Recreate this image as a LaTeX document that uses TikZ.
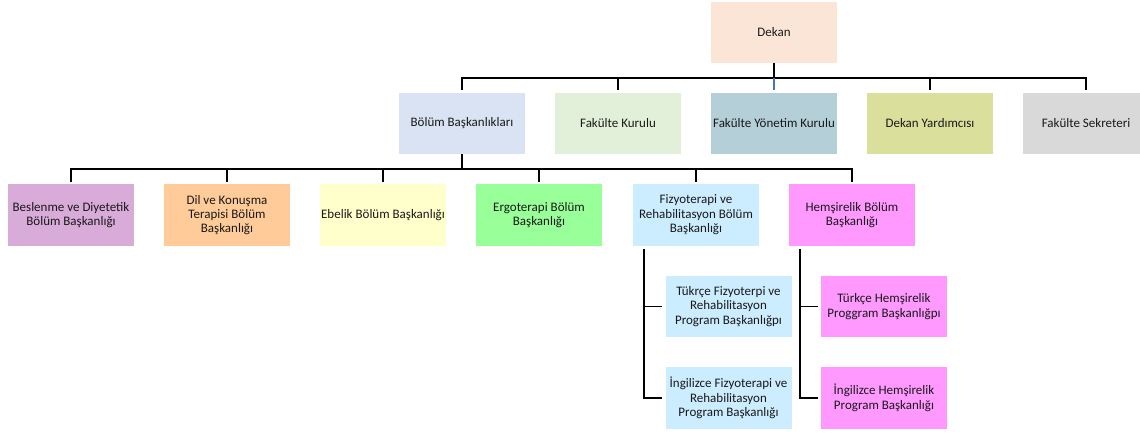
\documentclass[tikz,border=0pt]{standalone}
\usepackage{fontspec}
\setmainfont{Carlito}
\definecolor{cDekan}{HTML}{FBE5D6}
\definecolor{cBB}{HTML}{DAE3F3}
\definecolor{cFK}{HTML}{E2F0D9}
\definecolor{cFYK}{HTML}{B5CFD8}
\definecolor{cDY}{HTML}{DAE09B}
\definecolor{cFS}{HTML}{D9D9D9}
\definecolor{cBes}{HTML}{D8ABD8}
\definecolor{cDil}{HTML}{FFCC99}
\definecolor{cEbe}{HTML}{FFFFCC}
\definecolor{cErg}{HTML}{99FF99}
\definecolor{cFiz}{HTML}{CCECFF}
\definecolor{cHem}{HTML}{FF99FF}
\definecolor{cBlue}{HTML}{4472C4}
\tikzset{
  box/.style={minimum width=126pt, minimum height=61.5pt, inner sep=0pt, align=center,
    font=\fontsize{13}{14.4}\selectfont, text=black!90},
  conn/.style={line width=1.8pt, black},
}
\begin{document}
\begin{tikzpicture}[x=1pt,y=-1pt]
\useasboundingbox (0,0) rectangle (1140,434);
% row 1
\node[box, fill=cDekan] (dekan) at (774,32.5) {Dekan};
% row 2
\node[box, fill=cBB]  (bb)  at (462,123.5) {Bölüm Başkanlıkları};
\node[box, fill=cFK]  (fk)  at (618,123.5) {Fakülte Kurulu};
\node[box, fill=cFYK] (fyk) at (774,123.5) {Fakülte Yönetim Kurulu};
\node[box, fill=cDY]  (dy)  at (930,123.5) {Dekan Yardımcısı};
\node[box, fill=cFS]  (fs)  at (1086,123.5) {Fakülte Sekreteri};
% row 3
\node[box, fill=cBes] (bes) at (71,215) {Beslenme ve Diyetetik\\Bölüm Başkanlığı};
\node[box, fill=cDil] (dil) at (227,215) {Dil ve Konuşma\\Terapisi Bölüm\\Başkanlığı};
\node[box, fill=cEbe] (ebe) at (383,215) {Ebelik Bölüm Başkanlığı};
\node[box, fill=cErg] (erg) at (539,215) {Ergoterapi Bölüm\\Başkanlığı};
\node[box, fill=cFiz] (fiz) at (696,215) {Fizyoterapi ve\\Rehabilitasyon Bölüm\\Başkanlığı};
\node[box, fill=cHem] (hem) at (852,215) {Hemşirelik Bölüm\\Başkanlığı};
% row 4
\node[box, fill=cFiz] (ft1) at (728.5,306.5) {Tükrçe Fizyoterpi ve\\Rehabilitasyon\\Program Başkanlığpı};
\node[box, fill=cFiz] (ft2) at (728.5,398) {İngilizce Fizyoterapi ve\\Rehabilitasyon\\Program Başkanlığı};
\node[box, fill=cHem] (ht1) at (884,306.5) {Türkçe Hemşirelik\\Proggram Başkanlığpı};
\node[box, fill=cHem] (ht2) at (884,398) {İngilizce Hemşirelik\\Program Başkanlığı};
% connectors level 1
\coordinate (bus1) at (774,78);
\draw[conn] (dekan.south) -- (bus1);
\draw[conn] ([yshift=3pt]bb.north) |- (bus1 -| fs.north) -- ([yshift=3pt]fs.north);
\draw[conn] (bus1 -| fk.north) -- ([yshift=3pt]fk.north);
\draw[conn] (bus1 -| dy.north) -- ([yshift=3pt]dy.north);
\draw[line width=1.8pt, cBlue] (bus1) -- ([yshift=3pt]fyk.north);
% connectors level 2
\coordinate (bus2) at (462,169);
\draw[conn] (bb.south) -- (bus2);
\draw[conn] ([yshift=2pt]bes.north) |- (bus2 -| hem.north) -- ([yshift=2pt]hem.north);
\foreach \n in {dil,ebe,erg,fiz}
  \draw[conn] (bus2 -| \n.north) -- ([yshift=2pt]\n.north);
% connectors level 3
\draw[conn] ([shift={(11,3)}]fiz.south west) |- ([xshift=-3pt]ft1.west);
\draw[conn] ([shift={(11,3)}]fiz.south west) |- ([xshift=-3pt]ft2.west);
\draw[conn] ([shift={(11,3)}]hem.south west) |- ([xshift=-3pt]ht1.west);
\draw[conn] ([shift={(11,3)}]hem.south west) |- ([xshift=-3pt]ht2.west);
\end{tikzpicture}
\end{document}
